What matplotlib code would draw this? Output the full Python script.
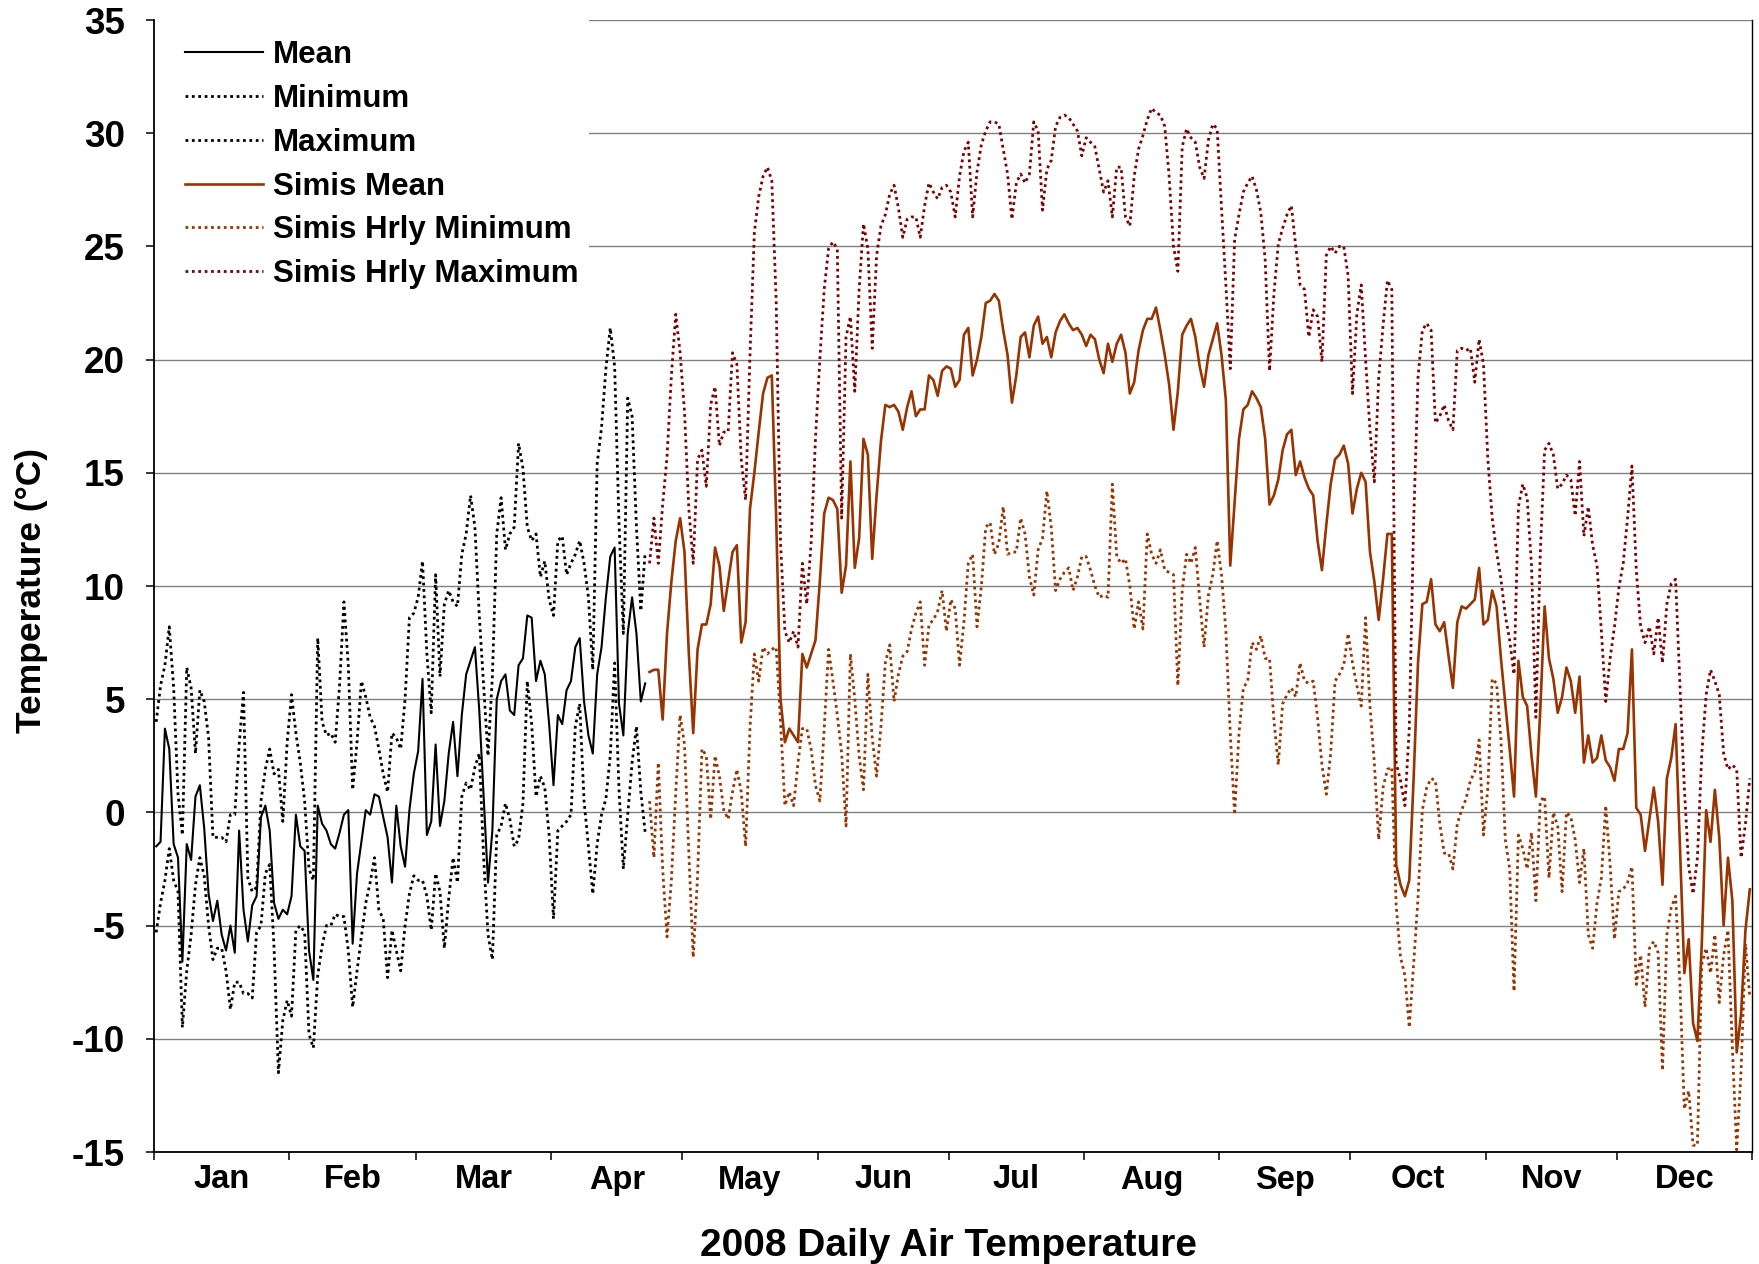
import matplotlib.pyplot as plt
from matplotlib.patches import Rectangle
import numpy as np

plt.rcParams['font.family'] = ['Liberation Sans', 'DejaVu Sans']
plt.rcParams['font.weight'] = 'bold'
plt.rcParams['axes.unicode_minus'] = False

# 2008 month names and lengths (leap year)
months = ['Jan', 'Feb', 'Mar', 'Apr', 'May', 'Jun', 'Jul', 'Aug', 'Sep', 'Oct', 'Nov', 'Dec']
month_days = [31, 29, 31, 30, 31, 30, 31, 31, 30, 31, 30, 31]

# station record, 1 Jan - 22 Apr (day 0..112)
mean_obs = [
    -1.5, -1.3, 3.7, 2.8, -1.4, -2.0, -6.6, -1.4, -2.1, 0.7, 1.2, -0.7, -3.6, -4.8, -3.9, -5.4,
    -6.1, -5.0, -6.2, -0.8, -4.3, -5.7, -4.1, -3.7, -0.2, 0.3, -0.8, -4.0, -4.7, -4.3, -4.5,
    -3.7, -0.1, -1.5, -1.7, -6.1, -7.4, 0.3, -0.5, -0.8, -1.4, -1.6, -0.9, -0.1, 0.1, -5.8,
    -2.7, -1.3, 0.1, -0.1, 0.8, 0.7, -0.2, -1.1, -3.1, 0.3, -1.5, -2.4, 0.1, 1.7,
    2.7, 5.9, -1.0, -0.4, 3.0, -0.6, 0.5, 2.6, 4.0, 1.6, 4.3, 6.1, 6.7, 7.3, 4.5, 0.7,
    -3.1, -0.8, 5.0, 5.8, 6.1, 4.5, 4.3, 6.5, 6.8, 8.7, 8.6, 5.8, 6.7, 6.1, 3.9,
    1.2, 4.3, 3.9, 5.4, 5.8, 7.3, 7.7, 4.9, 3.4, 2.6, 6.1, 7.3, 9.5, 11.3, 11.7, 4.8,
    3.4, 7.9, 9.5, 7.9, 4.9, 5.7]
min_obs = [
    -5.3, -4.0, -3.0, -1.6, -3.0, -3.5, -9.5, -7.0, -5.4, -3.2, -2.0, -2.8, -5.0, -6.5, -6.0, -6.0,
    -7.0, -8.7, -7.5, -7.5, -8.0, -8.0, -8.2, -5.3, -5.0, -2.7, -2.3, -6.0, -11.5, -9.2, -8.3,
    -9.0, -5.2, -5.0, -5.3, -9.8, -10.4, -7.2, -5.9, -5.0, -5.0, -4.5, -4.6, -4.6, -6.1, -8.6,
    -7.0, -5.5, -4.0, -3.1, -2.0, -4.3, -4.7, -7.3, -5.2, -6.1, -7.0, -5.0, -3.6, -2.8,
    -3.0, -3.0, -3.7, -5.2, -2.7, -3.5, -6.0, -3.8, -2.0, -3.1, 0.7, 1.3, 1.0, 2.0, 2.6, -2.0,
    -5.4, -6.5, -1.0, -0.6, 0.4, -0.3, -1.5, -1.2, 0.4, 5.8, 3.9, 0.7, 1.6, 1.1, -1.0,
    -4.7, -0.8, -0.6, -0.4, -0.1, 3.8, 4.8, 0.5, -1.5, -3.6, -1.4, -0.1, 0.6, 2.5, 6.6, 1.0,
    -2.5, -0.1, 2.2, 3.8, 0.9, -0.9]
max_obs = [
    4.0, 5.6, 6.5, 8.2, 5.5, 0.8, -1.0, 6.4, 5.5, 2.6, 5.4, 4.9, 3.3, -1.1, -1.1, -1.1,
    -1.3, -0.1, -0.1, 3.0, 5.3, -2.9, -3.5, -3.3, 0.5, 1.9, 2.8, 1.7, 1.9, -0.4, 3.1,
    5.2, 3.5, 2.2, 0.5, -2.5, -3.0, 7.7, 4.0, 3.4, 3.5, 3.1, 5.6, 9.3, 6.5, 1.0,
    3.1, 5.8, 5.1, 4.2, 3.8, 2.8, 1.7, 0.9, 3.5, 3.3, 2.8, 5.0, 8.6, 8.8,
    9.5, 11.1, 7.0, 4.4, 10.5, 6.0, 9.2, 9.8, 9.3, 9.1, 11.4, 12.3, 14.0, 12.6, 8.7, 5.6,
    2.5, 6.0, 12.3, 13.9, 11.6, 12.3, 12.6, 16.3, 15.2, 12.6, 12.0, 12.3, 10.4, 11.1, 9.4,
    8.7, 12.0, 12.2, 10.5, 11.0, 11.4, 12.0, 11.0, 9.5, 6.3, 15.4, 17.0, 19.6, 21.4, 19.7, 12.8,
    7.9, 18.3, 17.5, 12.6, 8.9, 11.5]

# Simis record, 23 Apr - 31 Dec (day 113..365)
simis_mean = [
    6.2, 6.3, 6.3, 4.1, 7.9, 10.2, 12.0, 13.0,
    11.5, 7.0, 3.5, 7.2, 8.3, 8.3, 9.2, 11.7, 10.9, 8.9, 10.2, 11.5, 11.8, 7.5, 8.4, 13.4,
    15.0, 16.8, 18.5, 19.2, 19.3, 13.0, 5.0, 3.1, 3.7, 3.4, 3.1, 7.0, 6.4, 7.0, 7.6,
    10.2, 13.2, 13.9, 13.8, 13.4, 9.7, 10.9, 15.5, 10.8, 12.1, 16.5, 15.8, 11.2, 14.0, 16.4,
    18.0, 17.9, 18.0, 17.7, 16.9, 17.9, 18.6, 17.5, 17.8, 17.8, 19.3, 19.1, 18.4, 19.5, 19.7,
    19.6, 18.8, 19.1, 21.1, 21.4, 19.3, 20.0, 21.0, 22.5, 22.6, 22.9, 22.6, 21.3, 20.2, 18.1,
    19.3, 21.0, 21.2, 20.1, 21.5, 21.9, 20.7, 21.0, 20.1, 21.2, 21.7, 22.0, 21.6, 21.3, 21.4, 21.1,
    20.6, 21.1, 20.9, 20.0, 19.4, 20.7, 19.9, 20.7, 21.1, 20.3, 18.5, 19.0, 20.4, 21.3, 21.8,
    21.8, 22.3, 21.3, 20.2, 18.9, 16.9, 18.6, 21.1, 21.5, 21.8, 21.0, 19.7, 18.8, 20.2, 20.9,
    21.6, 20.2, 18.2, 10.9, 13.7, 16.5, 17.8, 18.0, 18.6, 18.3, 17.9, 16.5, 13.6, 14.0, 14.7,
    16.0, 16.7, 16.9, 14.9, 15.5, 14.8, 14.3, 14.0, 12.0, 10.7, 12.7, 14.5, 15.6, 15.8, 16.2,
    15.4, 13.2, 14.3, 15.0, 14.6, 11.5, 10.2, 8.5, 10.3, 12.3, 12.3, -2.3, -3.2, -3.7, -3.0,
    1.5, 6.6, 9.2, 9.3, 10.3, 8.3, 8.0, 8.4, 6.9, 5.5, 8.4, 9.1, 9.0, 9.2, 9.4, 10.8,
    8.3, 8.5, 9.8, 9.1, 6.8, 4.8, 2.8, 0.7, 6.7, 5.1, 4.7, 2.5, 0.7, 4.5, 9.1,
    6.8, 5.9, 4.4, 5.1, 6.4, 5.8, 4.4, 6.0, 2.2, 3.4, 2.2, 2.4, 3.4, 2.3, 2.0, 1.4,
    2.8, 2.8, 3.5, 7.2, 0.2, -0.1, -1.7, -0.3, 1.1, -0.4, -3.2, 1.5, 2.4, 3.9, -1.5,
    -7.1, -5.6, -9.3, -10.1, -5.8, 0.1, -1.3, 1.0, -1.1, -5.0, -2.0, -3.9, -10.6, -8.9, -5.2, -3.4]
simis_min = [
    0.5, -2.0, 2.2, -2.5, -5.5, -3.0, 0.9, 4.3,
    3.0, -1.8, -6.4, -2.8, 2.8, 2.5, -0.3, 2.5, 1.6, 0.1, -0.3, 0.9, 1.9, 0.9, -1.5, 3.7,
    7.0, 5.8, 7.3, 7.0, 7.2, 7.3, 4.0, 0.3, 0.9, 0.3, 2.2, 3.7, 3.7, 2.8, 1.2,
    0.5, 3.7, 7.2, 5.8, 4.3, 2.6, -0.6, 7.0, 5.0, 2.5, 1.0, 6.1, 3.3, 1.6, 3.8,
    6.6, 7.4, 4.9, 6.1, 6.9, 7.1, 8.1, 8.8, 9.3, 6.5, 8.3, 8.5, 8.9, 9.8, 8.0,
    9.4, 9.0, 6.5, 8.4, 11.0, 11.4, 8.2, 10.0, 12.6, 12.8, 11.4, 11.9, 13.5, 11.4, 11.5,
    11.5, 13.0, 12.3, 10.4, 9.6, 11.6, 12.1, 14.2, 12.6, 9.8, 10.3, 10.6, 10.8, 9.8, 10.4, 11.3,
    11.3, 10.7, 10.0, 9.5, 9.6, 9.5, 14.5, 11.3, 11.0, 11.2, 10.0, 8.1, 9.3, 8.1, 12.3,
    11.4, 11.0, 11.6, 10.7, 10.6, 10.5, 5.6, 9.8, 11.4, 11.0, 11.7, 9.4, 7.3, 9.6, 10.5,
    12.0, 10.5, 8.0, 3.5, -0.1, 3.5, 5.5, 5.8, 7.5, 7.2, 7.8, 6.8, 6.8, 4.1, 2.1,
    4.8, 5.2, 5.5, 5.1, 6.6, 5.8, 5.7, 5.8, 4.2, 2.1, 0.8, 2.6, 5.8, 6.1, 6.5,
    7.9, 6.6, 5.6, 4.7, 8.6, 4.7, 2.2, -1.2, 1.1, 1.9, 2.0, -4.1, -6.4, -7.2, -9.5,
    -6.7, -3.8, 0.1, 1.1, 1.5, 1.4, -0.5, -1.8, -1.8, -2.5, -0.5, 0.1, 0.6, 1.4, 1.8, 3.2,
    -1.0, 1.1, 5.9, 5.7, 3.2, -1.2, -2.5, -7.9, -1.0, -1.6, -2.5, -0.9, -3.9, 0.5, 0.7,
    -2.9, 0.0, -0.6, -3.5, 0.0, -0.2, -1.2, -3.1, -1.6, -5.4, -6.0, -4.0, -2.9, 0.3, -2.3, -5.6,
    -3.5, -3.4, -3.1, -2.4, -7.6, -6.3, -8.6, -6.0, -5.7, -6.2, -11.4, -5.4, -4.2, -3.7, -7.6,
    -13.1, -12.3, -14.7, -14.7, -6.7, -6.0, -7.1, -5.4, -8.4, -6.3, -5.2, -10.4, -14.9, -11.4, -5.8, -8.2]
simis_max = [
    11.0, 13.0, 11.0, 13.6, 15.7, 19.3, 22.0, 20.3,
    17.7, 13.4, 11.0, 15.6, 16.0, 14.4, 18.0, 18.8, 16.2, 16.8, 16.8, 20.3, 19.8, 15.6, 13.8, 20.2,
    25.6, 27.2, 28.1, 28.5, 27.9, 22.6, 11.9, 8.0, 7.5, 8.0, 7.3, 11.0, 9.2, 11.9, 16.5,
    20.0, 23.1, 24.9, 25.2, 24.9, 13.0, 21.0, 21.9, 18.6, 23.1, 26.0, 24.9, 20.5, 24.6, 25.9,
    26.4, 27.3, 27.7, 26.7, 25.4, 26.2, 26.3, 26.3, 25.4, 26.8, 27.8, 27.4, 27.1, 27.6, 27.7,
    27.4, 26.3, 28.1, 29.2, 29.6, 26.3, 28.3, 29.5, 30.1, 30.5, 30.5, 30.4, 29.3, 28.2, 26.2,
    27.8, 28.2, 27.8, 28.2, 30.5, 30.1, 26.6, 28.4, 28.8, 30.3, 30.7, 30.8, 30.7, 30.4, 30.1, 29.0,
    29.8, 29.6, 29.4, 28.4, 27.4, 27.9, 26.3, 28.5, 28.5, 26.3, 25.9, 28.1, 29.3, 29.9, 30.6,
    31.1, 30.9, 30.8, 30.3, 28.1, 25.0, 23.9, 29.4, 30.2, 29.8, 29.6, 28.5, 28.0, 29.7, 30.4,
    30.2, 26.7, 23.3, 19.6, 25.3, 26.4, 27.4, 27.8, 28.1, 27.5, 26.5, 24.4, 19.5, 22.9, 25.1,
    25.8, 26.4, 26.8, 25.0, 23.3, 23.1, 21.0, 22.2, 21.9, 19.9, 24.6, 25.0, 24.7, 25.0, 25.0,
    23.7, 18.5, 22.0, 23.3, 20.0, 16.9, 14.6, 19.2, 21.5, 23.5, 23.1, 2.2, 1.4, 0.3, 3.7,
    12.8, 19.2, 21.3, 21.6, 21.3, 17.2, 17.5, 18.0, 17.3, 16.9, 20.4, 20.5, 20.4, 20.5, 19.0, 20.9,
    19.8, 15.6, 13.0, 11.5, 10.3, 8.7, 7.6, 6.1, 13.5, 14.5, 13.9, 10.9, 4.2, 11.4, 16.0,
    16.3, 15.8, 14.3, 14.5, 14.9, 14.7, 13.1, 15.5, 12.2, 13.5, 11.8, 10.9, 8.0, 4.9, 6.8, 8.2,
    9.9, 11.0, 13.0, 15.3, 10.7, 8.2, 7.5, 8.2, 7.0, 8.6, 6.6, 9.2, 10.1, 10.3, 5.6,
    1.1, -2.4, -3.6, -2.0, 2.6, 5.2, 6.3, 5.8, 5.2, 2.6, 1.9, 2.1, 1.9, -2.0, -0.5, 1.5]

n_days = sum(month_days)
x_obs = np.arange(len(mean_obs)) + 0.5
x_simis = np.arange(n_days - len(simis_mean), n_days) + 0.5

rust = '#993300'
darkred = '#800000'
dots = (0, (1, 1.3))

fig = plt.figure(figsize=(17.59, 12.64), dpi=100)
ax = fig.add_axes([154 / 1759, 1 - 1152 / 1264, 1598 / 1759, 1132 / 1264])

ax.plot(x_obs, mean_obs, color='black', lw=1.5, label='Mean')
ax.plot(x_obs, min_obs, color='black', lw=2.0, ls=dots, label='Minimum')
ax.plot(x_obs, max_obs, color='black', lw=2.0, ls=dots, label='Maximum')
ax.plot(x_simis, simis_mean, color=rust, lw=1.9, label='Simis Mean')
ax.plot(x_simis, simis_min, color=rust, lw=2.0, ls=dots, label='Simis Hrly Minimum')
ax.plot(x_simis, simis_max, color=darkred, lw=2.0, ls=dots, label='Simis Hrly Maximum')

ax.set_xlim(0, n_days)
ax.set_ylim(-15, 35)
ax.set_yticks(np.arange(-15, 36, 5))
ax.yaxis.grid(True, color='#808080', lw=1.0)
ax.set_axisbelow(True)

edges = np.cumsum([0] + month_days)
ax.set_xticks(edges)
ax.set_xticklabels([])
ax.set_xticks((edges[:-1] + edges[1:]) / 2, minor=True)
ax.set_xticklabels(months, minor=True)
ax.tick_params(axis='x', which='major', direction='out', length=6, width=1.1)
ax.tick_params(axis='x', which='minor', length=0, pad=9, labelsize=23.5)
ax.tick_params(axis='y', direction='out', length=6, width=1.1, pad=15, labelsize=26.5)

for s in ['left', 'bottom']:
    ax.spines[s].set_linewidth(1.3)
ax.spines['top'].set_visible(False)
ax.spines['right'].set_linewidth(1.0)

# white legend background over the gridlines
ax.add_patch(Rectangle((0, 0.77), 0.272, 0.23, transform=ax.transAxes,
                       facecolor='white', edgecolor='none', zorder=1.5))
leg = ax.legend(loc='upper left', bbox_to_anchor=(0.0194, 0.982), frameon=False,
                borderaxespad=0, borderpad=0, handlelength=2.5, handletextpad=0.32,
                labelspacing=0.44, prop={'size': 22.5, 'weight': 'bold'})

fig.text(31.4 / 1759, 0.533, 'Temperature (°C)', rotation=90, ha='center', va='center',
         fontsize=25.5, fontweight='bold')
fig.text(948 / 1759, 0.006, '2008 Daily Air Temperature', ha='center', va='baseline',
         fontsize=28, fontweight='bold')

fig.savefig('out.png', dpi=100)
